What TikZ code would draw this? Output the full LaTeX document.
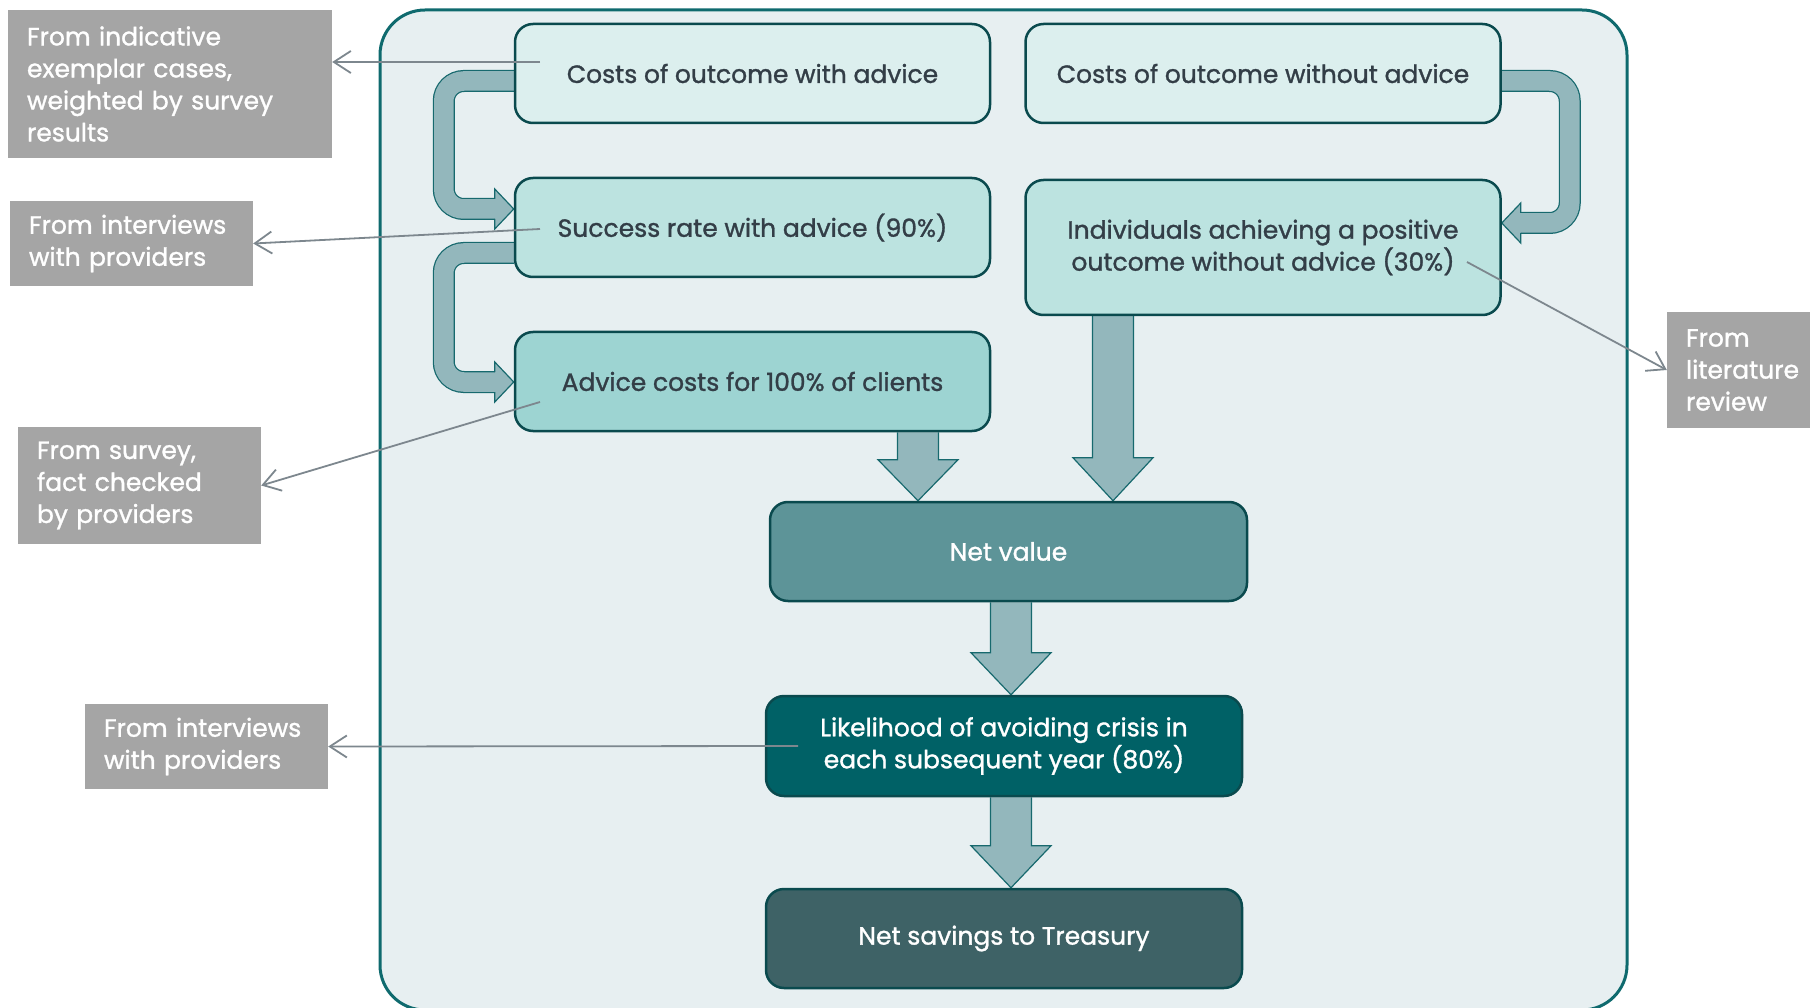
\documentclass[tikz,border=0pt]{standalone}
\usepackage{fontspec}
\setmainfont{Poppins}[FakeBold=1.2]
\usetikzlibrary{arrows.meta,calc,backgrounds}
\definecolor{contfill}{HTML}{E7EFF1}
\definecolor{contline}{HTML}{0F6A6E}
\definecolor{boxline}{HTML}{0A4A4E}
\definecolor{lvlA}{HTML}{DCEFEE}
\definecolor{lvlB}{HTML}{BCE3E0}
\definecolor{lvlC}{HTML}{9DD4D2}
\definecolor{lvlD}{HTML}{5D9498}
\definecolor{lvlE}{HTML}{006166}
\definecolor{lvlF}{HTML}{3E6266}
\definecolor{txtdark}{HTML}{333E47}
\definecolor{arrfill}{HTML}{93B7BC}
\definecolor{arrline}{HTML}{17696E}
\definecolor{srcgray}{HTML}{A5A5A5}
\definecolor{ptrc}{HTML}{7D878E}
\newcommand\fatdown[3]{%
  \filldraw[fat] ($(#1)+(-20.5,0)$) -- ($(#2)+(-20.5,-#3)$) -- ($(#2)+(-40,-#3)$) -- (#2)
    -- ($(#2)+(40,-#3)$) -- ($(#2)+(20.5,-#3)$) -- ($(#1)+(20.5,0)$);}
\begin{document}
\begin{tikzpicture}[x=1pt,y=-1pt,
  box/.style={draw=boxline, line width=2.5pt, rounded corners=18pt, align=center,
    inner sep=0pt, text=txtdark, font=\fontsize{25}{32}\selectfont},
  lvla/.style={box, fill=lvlA, minimum width=475pt, minimum height=99pt},
  lvlb/.style={box, fill=lvlB, minimum width=475pt},
  lvlc/.style={box, fill=lvlC, minimum width=475pt, minimum height=99pt},
  lvld/.style={box, fill=lvlD, text=white, minimum width=477pt, minimum height=99pt},
  lvle/.style={box, fill=lvlE, text=white, minimum width=476pt, minimum height=100pt},
  lvlf/.style={box, fill=lvlF, text=white, minimum width=476pt, minimum height=99pt},
  src/.style={fill=srcgray, text=white, align=left, inner xsep=19pt, inner ysep=0pt,
    font=\fontsize{25}{32}\selectfont},
  ptr/.style={draw=ptrc, line width=1.8pt, -{Straight Barb[length=17pt,width=22pt]}},
  band/.style={draw=arrline, line width=22pt, rounded corners=20pt,
    postaction={draw=arrfill, line width=19.5pt}},
  head/.style={fill=arrfill, draw=arrline, line width=1.2pt, line join=miter},
  fat/.style={fill=arrfill, draw=arrline, line width=1.2pt, line join=miter},
  container/.style={fill=contfill, draw=contline, line width=3pt, rounded corners=45pt}
]
\useasboundingbox (0,0) rectangle (1810,1008);

% main boxes
\node[lvla] (A) at (752.5,73.5) {Costs of outcome with advice};
\node[lvla] (B) at (1263,73.5) {Costs of outcome without advice};
\node[lvlb, minimum height=99pt] (C) at (752.5,227.5) {Success rate with advice (90\%)};
\node[lvlb, minimum height=135pt] (D) at (1263,247.5) {Individuals achieving a positive\\outcome without advice (30\%)};
\node[lvlc] (E) at (752.5,381.5) {Advice costs for 100\% of clients};
\node[lvld] (F) at (1008.5,551.5) {Net value};
\node[lvle] (G) at (1004,746) {Likelihood of avoiding crisis in\\each subsequent year (80\%)};
\node[lvlf] (H) at (1004,938.5) {Net savings to Treasury};

% source boxes
\node[src, text width=286pt, minimum height=148pt] (g1) at (170,84)
  {From indicative\\exemplar cases,\\weighted by survey\\results};
\node[src, text width=205pt, minimum height=85pt] (g2) at (131.5,243.5)
  {From interviews\\with providers};
\node[src, text width=205pt, minimum height=117pt] (g3) at (139.5,485.5)
  {From survey,\\fact checked\\by providers};
\node[src, text width=205pt, minimum height=85pt] (g4) at (206.5,746.5)
  {From interviews\\with providers};
\node[src, text width=125pt, minimum height=116pt] (g5) at (1748.5,370)
  {From\\literature\\review};

\begin{scope}[on background layer]
  \draw[container] (380,10) rectangle (1627,1010);
  % A -> C
  \coordinate (tAC) at ($(C.west)+(0,-18.5)$);
  \draw[band] ($(A.west)+(0,7.5)$) -- ++(-70,0) |- ($(tAC)+(-18,0)$);
  \filldraw[head] ($(tAC)+(-19,-10)$) -- ++(0,-10) -- (tAC) -- ($(tAC)+(-19,20)$) -- ++(0,-10);
  % C -> E
  \coordinate (tCE) at ($(E.west)+(0,0.5)$);
  \draw[band] ($(C.west)+(0,25.5)$) -- ++(-70,0) |- ($(tCE)+(-18,0)$);
  \filldraw[head] ($(tCE)+(-19,-10)$) -- ++(0,-10) -- (tCE) -- ($(tCE)+(-19,20)$) -- ++(0,-10);
  % B -> D
  \coordinate (tBD) at ($(D.east)+(0,-24.5)$);
  \draw[band] ($(B.east)+(0,7.5)$) -- ++(68,0) |- ($(tBD)+(18,0)$);
  \filldraw[head] ($(tBD)+(19,-10)$) -- ++(0,-10) -- (tBD) -- ($(tBD)+(19,20)$) -- ++(0,-10);
  % down arrows
  \coordinate (x1) at (918,0);
  \coordinate (x2) at (1113,0);
  \coordinate (x3) at (1011,0);
  \fatdown{E.south -| x1}{F.north -| x1}{41}
  \fatdown{D.south -| x2}{F.north -| x2}{43}
  \fatdown{F.south -| x3}{G.north -| x3}{42}
  \fatdown{G.south -| x3}{H.north -| x3}{42}
\end{scope}

% pointers to sources
\coordinate (p1) at (540,62);
\coordinate (p2) at (540,229);
\coordinate (p3) at (540,402);
\coordinate (p4) at (798,746);
\coordinate (p5) at (1467,262);
\draw[ptr] (p1) -- (g1.east |- p1);
\draw[ptr] (p2) -- (g2.east);
\draw[ptr] (p3) -- (g3.east);
\draw[ptr] (p4) -- (g4.east);
\draw[ptr] (p5) -- (g5.west);
\end{tikzpicture}
\end{document}
